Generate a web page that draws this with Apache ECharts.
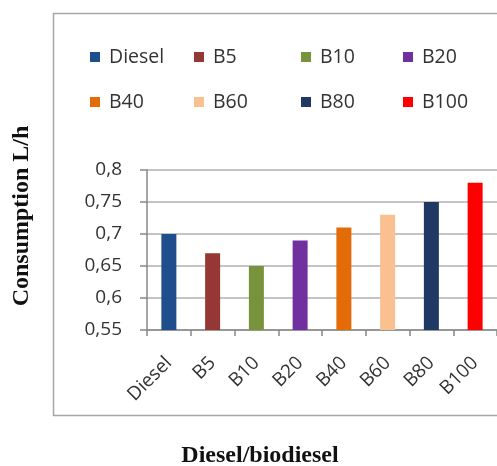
<!DOCTYPE html>
<html>
<head>
<meta charset="utf-8">
<script src="https://cdn.jsdelivr.net/npm/echarts@6/dist/echarts.min.js"></script>
<style>html,body{margin:0;padding:0;background:#fff;}#c{width:497px;height:466px;}</style>
</head>
<body>
<div id="c"></div>
<script>
var categories = ['Diesel', 'B5', 'B10', 'B20', 'B40', 'B60', 'B80', 'B100'];
var consumption = [0.70, 0.67, 0.65, 0.69, 0.71, 0.73, 0.75, 0.78];
var colors = ['#1F4E8C', '#953735', '#77933C', '#7030A0', '#E36C09', '#FAC090', '#1F3864', '#FF0000'];
var yTicks = [0.55, 0.6, 0.65, 0.7, 0.75, 0.8];

var chart = echarts.init(document.getElementById('c'), null, {renderer: 'canvas'});
var labelFont = '"Open Sans", sans-serif';

var series = categories.map(function (name, i) {
  return {
    name: name,
    type: 'bar',
    stack: 'all',
    barWidth: 15,
    itemStyle: {color: colors[i]},
    data: categories.map(function (c, j) { return j === i ? consumption[i] : '-'; })
  };
});

var legendLefts = [85, 189, 296, 398];
var legendTops = [42, 87];
var legends = categories.map(function (name, i) {
  return {
    data: [name],
    left: legendLefts[i % 4],
    top: legendTops[Math.floor(i / 4)],
    icon: 'rect',
    itemWidth: 10,
    itemHeight: 10,
    selectedMode: false,
    textStyle: {fontFamily: labelFont, fontSize: 19.5, color: '#333', lineHeight: 20, padding: [0, 0, 0, 4]}
  };
});

chart.setOption({
  animation: false,
  color: colors,
  legend: legends,
  grid: {left: 147, top: 170, width: 353, height: 160, containLabel: false},
  graphic: [
    {type: 'rect', shape: {x: 53.5, y: 13.5, width: 500, height: 402}, style: {fill: 'none', stroke: '#A6A6A6', lineWidth: 1.5}, z: -1},
    {type: 'text', x: 260, y: 456, style: {text: 'Diesel/biodiesel', font: 'bold 24px "Liberation Serif", serif', fill: '#111', textAlign: 'center', textVerticalAlign: 'middle'}},
    {type: 'text', x: 22, y: 216, rotation: Math.PI / 2, style: {text: 'Consumption L/h', font: 'bold 24px "Liberation Serif", serif', fill: '#111', textAlign: 'center', textVerticalAlign: 'middle'}}
  ],
  xAxis: {
    type: 'category',
    data: categories,
    axisLine: {lineStyle: {color: '#888', width: 1.5}},
    axisTick: {show: true, alignWithLabel: false, length: 6, lineStyle: {color: '#888', width: 1.5}},
    axisLabel: {rotate: 45, interval: 0, margin: 30, fontFamily: labelFont, fontSize: 19, color: '#333'}
  },
  yAxis: {
    type: 'value',
    min: 0.55,
    max: 0.8,
    interval: 0.05,
    axisLine: {show: true, lineStyle: {color: '#888', width: 1.5}},
    axisTick: {show: true, length: 7, lineStyle: {color: '#888', width: 1.5}},
    splitLine: {lineStyle: {color: '#B0B0B0', width: 1.5}},
    axisLabel: {
      margin: 25,
      fontFamily: labelFont,
      fontSize: 19,
      color: '#333',
      formatter: function (v) {
        var t = yTicks.filter(function (x) { return Math.abs(x - v) < 1e-6; });
        return t.length ? String(t[0]).replace('.', ',') : '';
      }
    }
  },
  series: series
});
</script>
</body>
</html>
